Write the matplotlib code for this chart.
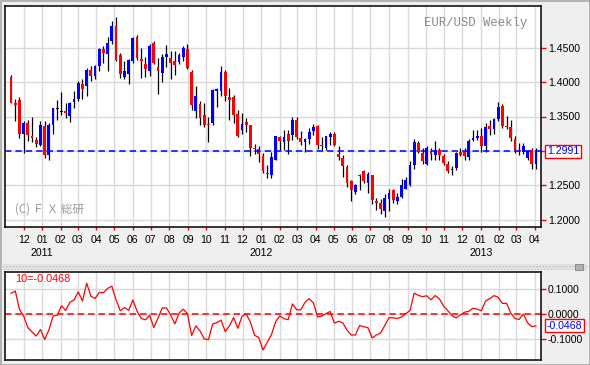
import matplotlib
matplotlib.use('Agg')
import matplotlib.pyplot as plt
import matplotlib.transforms as mtransforms
from matplotlib.patches import Rectangle
import numpy as np
import pandas as pd

# ---------------- data ----------------
first_week = '2010-11-08'
opens = [1.408, 1.3695, 1.374, 1.324, 1.341, 1.322, 1.3155, 1.309, 1.336, 1.294,
         1.338, 1.362, 1.3575, 1.3573, 1.351, 1.371, 1.3748, 1.3976, 1.394, 1.4175,
         1.4087, 1.424, 1.4485, 1.4403, 1.4597, 1.4815, 1.439, 1.4078, 1.412, 1.4306,
         1.4655, 1.434, 1.4267, 1.416, 1.4573, 1.4218, 1.4136, 1.4364, 1.4354, 1.4306,
         1.4296, 1.4369, 1.4485, 1.4146, 1.3578, 1.3684, 1.352, 1.339, 1.3408, 1.387,
         1.3869, 1.4146, 1.3782, 1.3782, 1.3539, 1.330, 1.3422, 1.3374, 1.3045, 1.303,
         1.2932, 1.268, 1.2655, 1.2874, 1.320, 1.3126, 1.3243, 1.3228, 1.3456, 1.3185,
         1.313, 1.3175, 1.3286, 1.336, 1.3083, 1.3044, 1.3204, 1.3248, 1.2951, 1.2898,
         1.2762, 1.2558, 1.2403, 1.2646, 1.2704, 1.2534, 1.2646, 1.2267, 1.2238, 1.2121,
         1.2301, 1.2437, 1.2267, 1.233, 1.2447, 1.251, 1.280, 1.3117, 1.2971, 1.2816,
         1.3005, 1.2947, 1.302, 1.2922, 1.2816, 1.2715, 1.2752, 1.2985, 1.2985, 1.2908,
         1.3165, 1.3185, 1.3223, 1.3068, 1.336, 1.3325, 1.3466, 1.365, 1.3369, 1.3345,
         1.318, 1.301, 1.2985, 1.2898, 1.301, 1.2811]
highs = [1.410, 1.375, 1.379, 1.343, 1.345, 1.350, 1.320, 1.343, 1.343, 1.341,
         1.363, 1.374, 1.386, 1.370, 1.371, 1.387, 1.401, 1.404, 1.421, 1.424,
         1.425, 1.450, 1.452, 1.466, 1.489, 1.4947, 1.4427, 1.4306, 1.433, 1.4655,
         1.468, 1.450, 1.437, 1.4558, 1.4597, 1.4354, 1.4413, 1.4539, 1.445, 1.445,
         1.4427, 1.4524, 1.4558, 1.418, 1.394, 1.372, 1.369, 1.350, 1.3895, 1.392,
         1.424, 1.4175, 1.392, 1.3806, 1.360, 1.3544, 1.348, 1.3374, 1.310, 1.307,
         1.297, 1.280, 1.298, 1.3214, 1.3214, 1.331, 1.331, 1.349, 1.349, 1.3286,
         1.319, 1.3335, 1.3393, 1.3383, 1.3204, 1.322, 1.3277, 1.3277, 1.3068, 1.2947,
         1.280, 1.2583, 1.252, 1.2665, 1.2728, 1.269, 1.2655, 1.2316, 1.2301, 1.2379,
         1.244, 1.2445, 1.2389, 1.2592, 1.262, 1.285, 1.3175, 1.314, 1.3044, 1.3065,
         1.3044, 1.314, 1.3044, 1.295, 1.285, 1.2786, 1.2985, 1.3044, 1.3044, 1.3175,
         1.330, 1.330, 1.3335, 1.3408, 1.3456, 1.348, 1.3714, 1.368, 1.3505, 1.3442,
         1.3214, 1.3117, 1.3117, 1.3015, 1.3044, 1.3044]
lows = [1.369, 1.343, 1.319, 1.297, 1.315, 1.313, 1.305, 1.307, 1.290, 1.287,
        1.325, 1.345, 1.352, 1.348, 1.342, 1.362, 1.372, 1.375, 1.380, 1.4015,
        1.404, 1.416, 1.428, 1.416, 1.456, 1.431, 1.4063, 1.405, 1.3966, 1.428,
        1.432, 1.4063, 1.407, 1.4087, 1.426, 1.383, 1.400, 1.4223, 1.405, 1.410,
        1.4257, 1.430, 1.419, 1.360, 1.348, 1.3383, 1.335, 1.3126, 1.337, 1.364,
        1.3796, 1.372, 1.3456, 1.3408, 1.3204, 1.3248, 1.3277, 1.292, 1.295, 1.2835,
        1.268, 1.2607, 1.2607, 1.2865, 1.301, 1.301, 1.2961, 1.3165, 1.3175, 1.3092,
        1.2985, 1.3107, 1.3238, 1.3029, 1.302, 1.302, 1.3083, 1.3068, 1.2874, 1.262,
        1.247, 1.2267, 1.2374, 1.2437, 1.2534, 1.2389, 1.2228, 1.2146, 1.2087, 1.2034,
        1.2121, 1.224, 1.2233, 1.2316, 1.244, 1.2485, 1.2738, 1.2971, 1.2816, 1.279,
        1.2874, 1.2874, 1.2874, 1.280, 1.268, 1.2655, 1.2728, 1.2922, 1.2874, 1.2874,
        1.315, 1.316, 1.2985, 1.2985, 1.3228, 1.3248, 1.344, 1.334, 1.3311, 1.315,
        1.297, 1.2937, 1.295, 1.287, 1.2738, 1.2738]
closes = [1.370, 1.367, 1.325, 1.341, 1.323, 1.3185, 1.3105, 1.338, 1.294, 1.338,
          1.362, 1.362, 1.3575, 1.3549, 1.370, 1.375, 1.399, 1.390, 1.4175, 1.4087,
          1.424, 1.4485, 1.4427, 1.4573, 1.4815, 1.432, 1.412, 1.416, 1.432, 1.4646,
          1.4354, 1.4306, 1.4194, 1.4524, 1.4272, 1.416, 1.4364, 1.4403, 1.428, 1.4248,
          1.4388, 1.450, 1.4209, 1.366, 1.3796, 1.348, 1.337, 1.3375, 1.3883, 1.390,
          1.4146, 1.3796, 1.3738, 1.352, 1.3223, 1.339, 1.3374, 1.3044, 1.303, 1.296,
          1.2704, 1.2665, 1.2908, 1.3214, 1.3146, 1.320, 1.3146, 1.3447, 1.320, 1.313,
          1.3175, 1.3277, 1.335, 1.3092, 1.3068, 1.3214, 1.3248, 1.3083, 1.2908, 1.2777,
          1.2534, 1.2437, 1.251, 1.263, 1.2558, 1.2665, 1.229, 1.2243, 1.2155, 1.2316,
          1.2389, 1.2282, 1.233, 1.251, 1.2573, 1.280, 1.3126, 1.2985, 1.285, 1.3044,
          1.2956, 1.302, 1.2937, 1.2825, 1.2704, 1.273, 1.2971, 1.2947, 1.2922, 1.315,
          1.3189, 1.3214, 1.3068, 1.3345, 1.332, 1.3466, 1.3641, 1.3369, 1.335, 1.3189,
          1.301, 1.2995, 1.3068, 1.2995, 1.2811, 1.2991]
momentum = [0.083, 0.092, 0.018, -0.008, -0.055, -0.072, -0.088, -0.062, -0.102, -0.064,
            -0.0080, -0.0050, 0.0325, 0.0139, 0.0470, 0.0565, 0.0885, 0.0520, 0.1235, 0.0707,
            0.0620, 0.0865, 0.0852, 0.1024, 0.1115, 0.0570, 0.0130, 0.0260, 0.0145, 0.0559,
            0.0114, -0.0179, -0.0233, -0.0049, -0.0543, -0.0160, 0.0244, 0.0243, -0.0040, -0.0398,
            0.0034, 0.0194, 0.0015, -0.0864, -0.0476, -0.0680, -0.0994, -0.1028, -0.0397, -0.0348,
            -0.0242, -0.0704, -0.0471, -0.0140, -0.0573, -0.0090, 0.0004, -0.0331, -0.0853, -0.0940,
            -0.1442, -0.1131, -0.0830, -0.0306, -0.0077, -0.0190, -0.0228, 0.0403, 0.0170, 0.0170,
            0.0471, 0.0612, 0.0442, -0.0122, -0.0078, 0.0014, 0.0102, -0.0364, -0.0292, -0.0353,
            -0.0641, -0.0840, -0.0840, -0.0462, -0.0510, -0.0549, -0.0958, -0.0840, -0.0753, -0.0461,
            -0.0145, -0.0155, -0.0180, -0.0120, 0.0015, 0.0135, 0.0836, 0.0742, 0.0695, 0.0728,
            0.0567, 0.0738, 0.0607, 0.0315, 0.0131, -0.0070, -0.0155, -0.0038, 0.0072, 0.0106,
            0.0233, 0.0194, 0.0131, 0.0520, 0.0616, 0.0736, 0.0670, 0.0422, 0.0428, 0.0039,
            -0.0179, -0.0219, 0.0000, -0.0350, -0.0509, -0.0475]
month_labels = ['12', '01', '02', '03', '04', '05', '06', '07', '08', '09', '10', '11',
                '12', '01', '02', '03', '04', '05', '06', '07', '08', '09', '10', '11',
                '12', '01', '02', '03', '04']
year_labels = ['2011', '2012', '2013']
last_price = 1.2991
last_mom = -0.0468
price_ticks = [1.20, 1.25, 1.30, 1.35, 1.40, 1.45]
price_tick_labels = ['1.2000', '1.2500', '', '1.3500', '1.4000', '1.4500']
mom_ticks = [-0.1, 0.0, 0.1]
mom_tick_labels = ['-0.1000', '0.0000', '0.1000']
title_text = 'EUR/USD Weekly'
copyright_text = '(C) Ｆ Ｘ 総研'
mom_period = 10

# ---------------- figure ----------------
W, H = 590, 365
fig = plt.figure(figsize=(W / 100, H / 100), dpi=100)
fig.patch.set_facecolor('#efefef')
LAB = 'Liberation Sans'
BLUE = '#0000ff'
RED = '#ff0000'
GRID = '#d9d9d9'

def px_axes(l, t, r, b):
    return fig.add_axes([l / W, 1 - b / H, (r - l) / W, (b - t) / H])

ax = px_axes(5, 6, 541, 227)
ax2 = px_axes(5, 272, 541, 360)

n = len(closes)
x = np.arange(n)
start = pd.Timestamp(first_week)
mdates = pd.date_range('2010-12-01', periods=len(month_labels), freq='MS')
mpos = np.array([(d - start).days / 7.0 - 0.3 for d in mdates])
jan_pos = [p for p, lab in zip(mpos, month_labels) if lab == '01']

xlim = (-1.45, n + 0.2)
for a in (ax, ax2):
    a.set_facecolor('white')
    a.set_xlim(*xlim)
    for s in a.spines.values():
        s.set_linewidth(1.1)
        s.set_color('black')
    a.set_xticks(mpos)
    a.xaxis.grid(True, color=GRID, linewidth=1.0)
    a.yaxis.grid(True, color=GRID, linewidth=1.0)
    a.set_axisbelow(True)
    a.yaxis.tick_right()
    a.tick_params(axis='y', colors=RED, length=3.5, width=1.0, pad=1.5,
                  labelcolor='black', labelsize=7.6)

# ---- candles ----
ax.set_ylim(1.1893, 1.5107)
body_w = 0.66
for i in range(n):
    o, h, l, c = opens[i], highs[i], lows[i], closes[i]
    ax.vlines(x[i], l, h, color='black', linewidth=0.9, zorder=2)
    if c > o:
        col = BLUE
    elif c < o:
        col = RED
    else:
        col = 'black'
    bot = min(o, c)
    hgt = abs(c - o)
    if hgt < 0.0013:
        bot = (o + c) / 2 - 0.00065
        hgt = 0.0013
    ax.bar(x[i], hgt, bottom=bot, width=body_w, color=col, linewidth=0, zorder=3)

ax.axhline(last_price, color=BLUE, linewidth=1.1, dashes=(4.2, 2.6), zorder=4)
ax.set_yticks(price_ticks)
ax.set_yticklabels(price_tick_labels, fontfamily=LAB)
ax.set_xticklabels(month_labels, fontfamily=LAB, fontsize=7.6)
ax.tick_params(axis='x', colors=RED, length=2.2, width=1.0, pad=3.5,
               labelcolor='black')

yt = mtransforms.blended_transform_factory(ax.transData, ax.transAxes)
for p, ylab in zip(jan_pos, year_labels):
    ax.text(p, -0.117, ylab, transform=yt, ha='center', va='center',
            fontsize=7.6, fontfamily=LAB, color='black', clip_on=False)

ax.text(0.974, 0.923, title_text, transform=ax.transAxes, ha='right', va='center',
        fontsize=8.8, fontfamily='Liberation Mono', color='#888888')
ax.text(0.0187, 0.081, copyright_text, transform=ax.transAxes, ha='left', va='center',
        fontsize=8.3, family=['Noto Sans CJK JP', 'DejaVu Sans'], color='#9a9a9a')

bt = mtransforms.blended_transform_factory(ax.transAxes, ax.transData)
ax.text(1.0112, last_price, f'{last_price:.4f}', transform=bt, ha='left', va='center',
        fontsize=7.6, fontfamily=LAB, color=BLUE, clip_on=False, zorder=6,
        bbox=dict(boxstyle='square,pad=0.15', fc='white', ec=RED, lw=1.0))

# ---- momentum ----
ax2.set_ylim(-0.184, 0.168)
ax2.plot(x, momentum, color=RED, linewidth=0.9, zorder=3)
ax2.axhline(0.0, color=RED, linewidth=1.1, dashes=(4.2, 2.6), zorder=2)
ax2.set_yticks(mom_ticks)
ax2.set_yticklabels(mom_tick_labels, fontfamily=LAB)
ax2.tick_params(axis='x', length=0, labelbottom=False)
ax2.text(0.0187, 0.92, f'{mom_period}={last_mom:.4f}', transform=ax2.transAxes,
         ha='left', va='center', fontsize=7.8, fontfamily=LAB, color=RED)
bt2 = mtransforms.blended_transform_factory(ax2.transAxes, ax2.transData)
ax2.text(1.0112, last_mom, f'{last_mom:.4f}', transform=bt2, ha='left', va='center',
         fontsize=7.6, fontfamily=LAB, color=BLUE, clip_on=False, zorder=6,
         bbox=dict(boxstyle='square,pad=0.15', fc='white', ec=RED, lw=1.0))

# ---- frame decorations ----
fig.add_artist(Rectangle((3 / W, 1 - 270 / H), 584 / W, 6 / H, transform=fig.transFigure,
                         facecolor='#e6e6e6', edgecolor='#c4c4c4', hatch='.....',
                         linewidth=0))
fig.add_artist(Rectangle((575 / W, 1 - 270 / H), 8 / W, 6 / H, transform=fig.transFigure,
                         facecolor='#b0b0b0', edgecolor='#808080', linewidth=0.6))
fig.add_artist(Rectangle((0.5 / W, 0.5 / H), (W - 1) / W, (H - 1) / H,
                         transform=fig.transFigure, facecolor='none',
                         edgecolor='#a8a8a8', linewidth=1.2))

fig.savefig('out.png', dpi=100, facecolor=fig.get_facecolor())
